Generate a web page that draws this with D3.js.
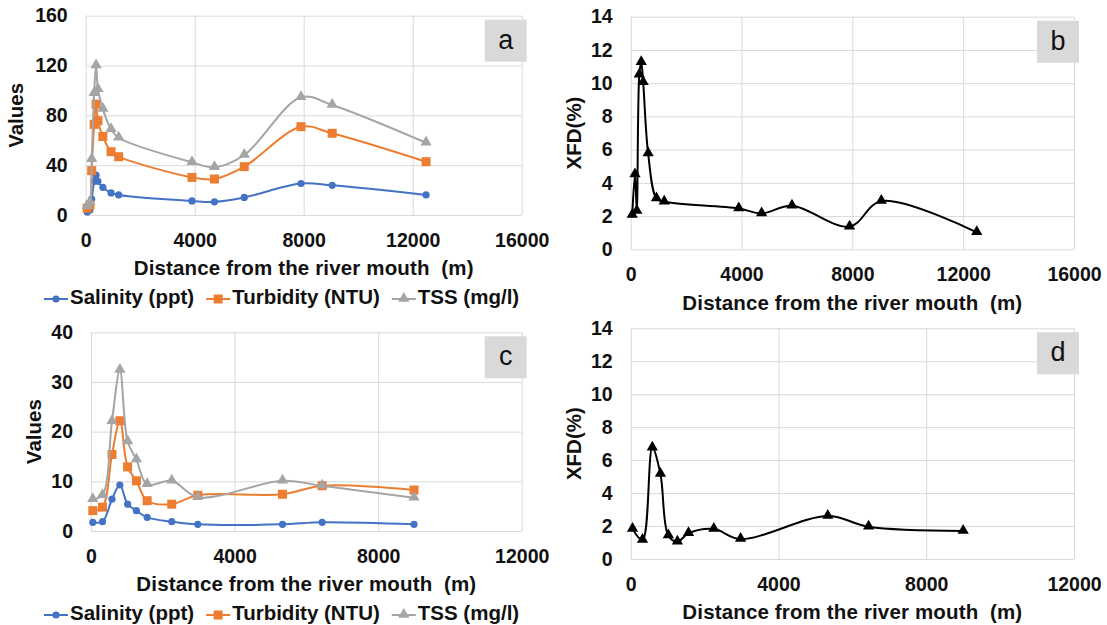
<!DOCTYPE html>
<html>
<head>
<meta charset="utf-8">
<script src="https://cdn.jsdelivr.net/npm/d3@7"></script>
<style>
  html, body { margin: 0; padding: 0; background: #fff; }
  svg text { font-family: "Liberation Sans", Arial, sans-serif; }
</style>
</head>
<body>
<svg id="chart" width="1107" height="625"></svg>
<script>
// ---------------- DATA ----------------
// Panels a & b: sampling stations (m from river mouth)
const stationsAB = [55, 155, 220, 310, 380, 450, 630, 930, 1210, 3900, 4725, 5820, 7900, 9045, 12490];
const salinityA  = [2.5, 4, 12.8, 26.8, 32, 27, 22.2, 17.7, 16.1, 11.3, 10.6, 14.1, 25.3, 23.8, 16.1];
const turbidityA = [5.5, 8, 35.6, 72.8, 89, 75.7, 63, 50.8, 46.8, 30.2, 28.9, 38.8, 70.9, 65.6, 42.8];
const tssA       = [7, 10, 44.7, 97.7, 120, 101, 85, 68.8, 62, 42.3, 38.3, 48.2, 94.5, 88.3, 58];
const xfdB       = [2.06, 4.5, 2.3, 10.5, 11.26, 10.06, 5.76, 3.06, 2.86, 2.46, 2.16, 2.62, 1.36, 2.9, 1.02];

// Panels c & d
const stationsCD = [50, 320, 585, 805, 1020, 1265, 1565, 2250, 2975, 5335, 6440, 9000];
const salinityC  = [1.75, 1.88, 6.4, 9.26, 5.4, 4.1, 2.75, 1.88, 1.34, 1.34, 1.75, 1.34];
const turbidityC = [4.1, 4.8, 15.4, 22.2, 12.9, 10.1, 6.1, 5.4, 7.2, 7.4, 9.1, 8.25];
const tssC       = [6.4, 7.2, 22.1, 32.4, 18, 14.4, 9.4, 10.1, 6.8, 10.1, 9.1, 6.7];
const xfdD       = [1.82, 1.15, 6.75, 5.16, 1.42, 1.05, 1.56, 1.82, 1.21, 2.61, 1.96, 1.7];

// Tick values
const xTicksAB = [0, 4000, 8000, 12000, 16000];
const xTicksCD = [0, 4000, 8000, 12000];
const yTicksA  = [0, 40, 80, 120, 160];
const yTicksC  = [0, 10, 20, 30, 40];
const yTicksXFD = [0, 2, 4, 6, 8, 10, 12, 14];

const seriesNames = ["Salinity (ppt)", "Turbidity (NTU)", "TSS (mg/l)"];
const panelLetters = ["a", "b", "c", "d"];
const xTitle = "Distance from the river mouth  (m)";

// ---------------- STYLE ----------------
const COLORS = ["#4472C4", "#ED7D31", "#A5A5A5"];
const SHAPES = ["circle", "square", "triangle"];
const GRID = "#D9D9D9";
const TXT = "#111";

const svg = d3.select("#chart");

function drawMarker(g, shape, x, y, color) {
  if (shape === "circle") {
    g.append("circle").attr("cx", x).attr("cy", y).attr("r", 3.6).attr("fill", color);
  } else if (shape === "square") {
    g.append("rect").attr("x", x - 4.5).attr("y", y - 4.5).attr("width", 9).attr("height", 9).attr("fill", color);
  } else {
    g.append("path").attr("d", d3.symbol(d3.symbolTriangle, 55)()).attr("transform", `translate(${x},${y - 0.5})`).attr("fill", color);
  }
}

function panel(cfg) {
  const g = svg.append("g");
  const x = d3.scaleLinear().domain([0, cfg.xMax]).range([cfg.left, cfg.right]);
  const y = d3.scaleLinear().domain([0, cfg.yMax]).range([cfg.bottom, cfg.top]);
  const w = cfg.right - cfg.left, h = cfg.bottom - cfg.top;

  // axes with gridlines
  const xa = g.append("g").attr("transform", `translate(0,${cfg.bottom})`)
    .call(d3.axisBottom(x).tickValues(cfg.xTicks).tickSize(-h).tickPadding(18).tickFormat(d3.format("d")));
  const ya = g.append("g").attr("transform", `translate(${cfg.left},0)`)
    .call(d3.axisLeft(y).tickValues(cfg.yTicks).tickSize(-w).tickPadding(18).tickFormat(d3.format("d")));
  [xa, ya].forEach(a => {
    a.select(".domain").remove();
    a.selectAll("line").attr("stroke", GRID).attr("stroke-width", 1);
    a.selectAll("text").attr("fill", TXT).style("font-size", "19.5px").style("font-weight", "bold");
  });

  // axis titles
  g.append("text").attr("x", (cfg.left + cfg.right) / 2).attr("y", cfg.bottom + 55)
    .attr("text-anchor", "middle").attr("dominant-baseline", "middle")
    .style("font-size", "20.5px").style("font-weight", "bold").style("white-space", "pre")
    .style("letter-spacing", "0.15px").attr("fill", TXT).text(xTitle);
  g.append("text").attr("transform", `translate(${cfg.yTitleX},${(cfg.top + cfg.bottom) / 2}) rotate(-90)`)
    .attr("text-anchor", "middle").attr("dominant-baseline", "middle")
    .style("font-size", "20.5px").style("font-weight", "bold").attr("fill", TXT).text(cfg.yTitle);

  // series
  cfg.series.forEach((vals, i) => {
    const pts = cfg.stations.map((s, k) => [x(s), y(vals[k])]);
    g.append("path").attr("d", d3.line().curve(d3.curveCatmullRom.alpha(0.5))(pts))
      .attr("fill", "none").attr("stroke", cfg.colors[i]).attr("stroke-width", 2);
    pts.forEach(p => drawMarker(g, cfg.shapes[i], p[0], p[1], cfg.colors[i]));
  });

  // letter box
  g.append("rect").attr("x", cfg.right - 37).attr("y", cfg.top + 4).attr("width", 42).attr("height", 42).attr("fill", "#D9D9D9");
  g.append("text").attr("x", cfg.right - 16).attr("y", cfg.top + 26).attr("text-anchor", "middle")
    .attr("dominant-baseline", "middle").style("font-size", "27px").attr("fill", TXT).text(cfg.letter);

  // legend
  if (cfg.legend) {
    let lx = cfg.legendX;
    const ly = cfg.bottom + 84;
    seriesNames.forEach((name, i) => {
      g.append("line").attr("x1", lx).attr("x2", lx + 24).attr("y1", ly).attr("y2", ly)
        .attr("stroke", COLORS[i]).attr("stroke-width", 2);
      drawMarker(g, SHAPES[i], lx + 12, ly, COLORS[i]);
      const t = g.append("text").attr("x", lx + 26).attr("y", ly).attr("dominant-baseline", "middle")
        .style("font-size", "20.5px").style("font-weight", "bold").attr("fill", TXT).text(name);
      lx += 26 + t.node().getComputedTextLength() + 12;
    });
  }
}

panel({ left: 85.7, right: 521.7, top: 15.7, bottom: 215, xMax: 16000, yMax: 160,
  xTicks: xTicksAB, yTicks: yTicksA, yTitle: "Values", yTitleX: 18, letter: panelLetters[0],
  stations: stationsAB, series: [salinityA, turbidityA, tssA], colors: COLORS, shapes: SHAPES,
  legend: true, legendX: 44 });

panel({ left: 630.7, right: 1074, top: 16.7, bottom: 249.3, xMax: 16000, yMax: 14,
  xTicks: xTicksAB, yTicks: yTicksXFD, yTitle: "XFD(%)", yTitleX: 576, letter: panelLetters[1],
  stations: stationsAB, series: [xfdB], colors: ["#000"], shapes: ["triangle"], legend: false });

panel({ left: 91, right: 521.7, top: 332.3, bottom: 531, xMax: 12000, yMax: 40,
  xTicks: xTicksCD, yTicks: yTicksC, yTitle: "Values", yTitleX: 36, letter: panelLetters[2],
  stations: stationsCD, series: [salinityC, turbidityC, tssC], colors: COLORS, shapes: SHAPES,
  legend: true, legendX: 44 });

panel({ left: 630.7, right: 1074, top: 328.3, bottom: 559, xMax: 12000, yMax: 14,
  xTicks: xTicksCD, yTicks: yTicksXFD, yTitle: "XFD(%)", yTitleX: 576, letter: panelLetters[3],
  stations: stationsCD, series: [xfdD], colors: ["#000"], shapes: ["triangle"], legend: false });
</script>
</body>
</html>
